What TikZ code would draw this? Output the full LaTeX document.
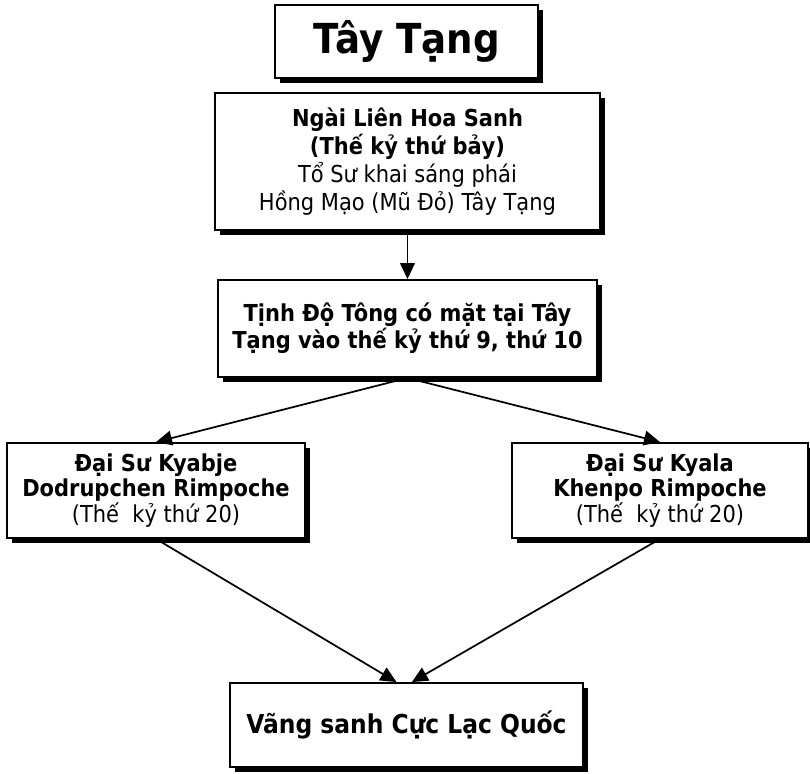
\documentclass[tikz,border=0pt]{standalone}
\usepackage{fontspec}
\setmainfont{DejaVu Sans Condensed}
\usetikzlibrary{arrows.meta,shadows}
\begin{document}
\begin{tikzpicture}[x=0.75pt,y=-0.75pt,
  box/.style={draw=black, line width=1.4pt, fill=white, align=center, inner sep=0pt,
    drop shadow={shadow xshift=3.5pt, shadow yshift=-3.5pt, fill=black, opacity=1}},
  conn/.style={line width=1.3pt, -{Triangle[length=12pt,width=11pt]}},
  txt/.style={font=\fontsize{17.5}{21}\selectfont}]
\useasboundingbox (0,0) rectangle (810,774);
\node[box, minimum width=263*0.75pt, minimum height=73*0.75pt, font=\fontsize{31}{34}\selectfont\bfseries] (title) at (406.5,41.5) {Tây Tạng};
\node[box, txt, minimum width=385*0.75pt, minimum height=137*0.75pt] (b2) at (407.5,161.5)
  {\textbf{Ngài Liên Hoa Sanh}\\\textbf{(Thế kỷ thứ bảy)}\\Tổ Sư khai sáng phái\\Hồng Mạo (Mũ Đỏ) Tây Tạng};
\node[box, txt, minimum width=379*0.75pt, minimum height=97*0.75pt, font=\fontsize{17.5}{20.5}\selectfont\bfseries] (b3) at (407.5,328.5)
  {Tịnh Độ Tông có mặt tại Tây\\Tạng vào thế kỷ thứ 9, thứ 10};
\node[box, font=\fontsize{17.5}{19}\selectfont, minimum width=298*0.75pt, minimum height=95*0.75pt] (b4) at (156,490.5)
  {\textbf{Đại Sư Kyabje}\\\textbf{Dodrupchen Rimpoche}\\(Thế\ \ kỷ thứ 20)};
\node[box, font=\fontsize{17.5}{19}\selectfont, minimum width=296*0.75pt, minimum height=95*0.75pt] (b5) at (660,490.5)
  {\textbf{Đại Sư Kyala}\\\textbf{Khenpo Rimpoche}\\(Thế\ \ kỷ thứ 20)};
\node[box, minimum width=353*0.75pt, minimum height=84*0.75pt, font=\fontsize{19.5}{22}\selectfont\bfseries] (b6) at (406.5,725)
  {Vãng sanh Cực Lạc Quốc};
\draw[conn] (b2.south) -- (b3.north);
\draw[conn] (b3.south) -- (b4.north);
\draw[conn] (b3.south) -- (b5.north);
\draw[conn] (b4.south) -- ([xshift=-7.5pt]b6.north);
\draw[conn] (b5.south) -- ([xshift=4pt]b6.north);
\end{tikzpicture}
\end{document}
